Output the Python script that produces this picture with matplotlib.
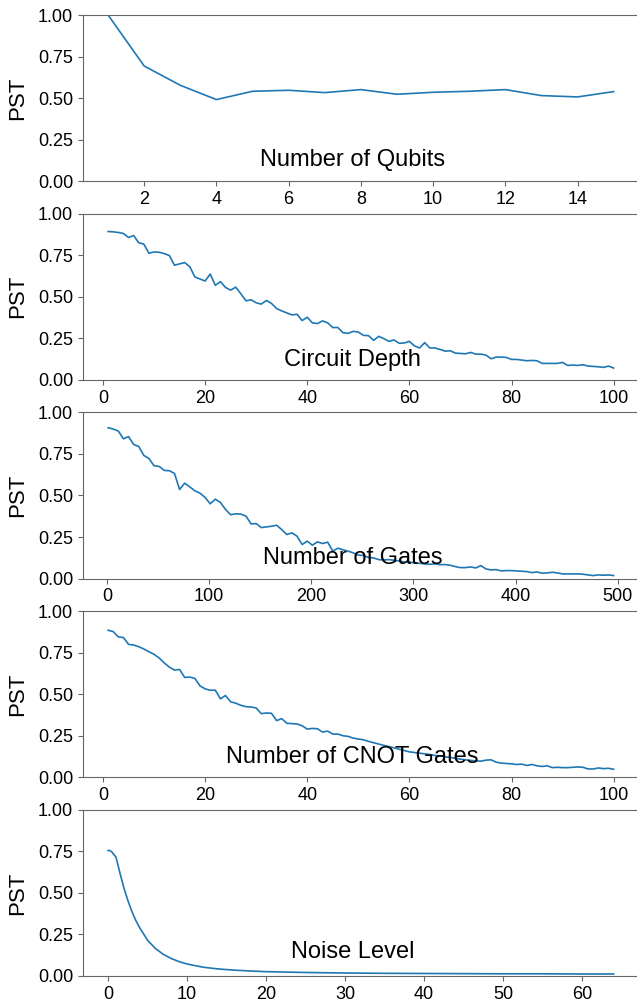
#!/usr/bin/env python3

import matplotlib
matplotlib.use("Agg")
import matplotlib.pyplot as plt

plt.rcParams["font.family"] = ["Liberation Sans", "DejaVu Sans"]

# --- data ---
qubits_x = list(range(1, 16))
qubits_pst = [1.0, 0.693, 0.577, 0.491, 0.541, 0.547, 0.533, 0.551, 0.523,
              0.535, 0.541, 0.551, 0.515, 0.507, 0.539]

depth_x = list(range(1, 101))
depth_pst = [0.893, 0.891, 0.887, 0.881, 0.857, 0.869, 0.825, 0.817, 0.762, 0.770,
             0.768, 0.760, 0.748, 0.690, 0.698, 0.706, 0.681, 0.619, 0.607, 0.595,
             0.637, 0.569, 0.591, 0.556, 0.540, 0.558, 0.518, 0.476, 0.482, 0.464,
             0.456, 0.478, 0.460, 0.429, 0.415, 0.403, 0.391, 0.395, 0.357, 0.377,
             0.343, 0.339, 0.355, 0.343, 0.315, 0.315, 0.284, 0.280, 0.292, 0.288,
             0.268, 0.266, 0.238, 0.262, 0.248, 0.232, 0.240, 0.220, 0.222, 0.232,
             0.204, 0.192, 0.224, 0.192, 0.192, 0.183, 0.173, 0.175, 0.161, 0.159,
             0.157, 0.165, 0.155, 0.155, 0.149, 0.127, 0.137, 0.137, 0.135, 0.123,
             0.123, 0.119, 0.115, 0.117, 0.115, 0.099, 0.099, 0.099, 0.099, 0.105,
             0.087, 0.089, 0.087, 0.091, 0.083, 0.081, 0.079, 0.075, 0.083, 0.071]

gates_x = list(range(1, 500, 5))
gates_pst = [0.908, 0.900, 0.888, 0.841, 0.855, 0.807, 0.795, 0.741, 0.723, 0.679,
             0.675, 0.651, 0.649, 0.633, 0.536, 0.574, 0.552, 0.528, 0.514, 0.488,
             0.450, 0.478, 0.458, 0.416, 0.384, 0.390, 0.388, 0.376, 0.329, 0.331,
             0.307, 0.311, 0.315, 0.321, 0.295, 0.265, 0.275, 0.255, 0.205, 0.225,
             0.201, 0.221, 0.211, 0.219, 0.165, 0.183, 0.173, 0.165, 0.155, 0.141,
             0.139, 0.127, 0.124, 0.114, 0.112, 0.114, 0.110, 0.106, 0.100, 0.100,
             0.094, 0.092, 0.088, 0.086, 0.088, 0.084, 0.084, 0.080, 0.072, 0.066,
             0.066, 0.070, 0.064, 0.078, 0.058, 0.052, 0.054, 0.046, 0.048, 0.048,
             0.046, 0.044, 0.042, 0.036, 0.040, 0.032, 0.034, 0.038, 0.034, 0.028,
             0.028, 0.028, 0.028, 0.026, 0.022, 0.018, 0.022, 0.020, 0.022, 0.018]

cnot_x = list(range(1, 101))
cnot_pst = [0.885, 0.877, 0.845, 0.841, 0.800, 0.796, 0.786, 0.772, 0.756, 0.740,
            0.718, 0.688, 0.663, 0.645, 0.649, 0.601, 0.603, 0.595, 0.550, 0.532,
            0.524, 0.524, 0.472, 0.492, 0.454, 0.446, 0.433, 0.425, 0.423, 0.417,
            0.383, 0.387, 0.385, 0.341, 0.353, 0.325, 0.323, 0.321, 0.310, 0.290,
            0.294, 0.292, 0.272, 0.278, 0.260, 0.260, 0.250, 0.246, 0.236, 0.230,
            0.226, 0.216, 0.208, 0.200, 0.192, 0.185, 0.177, 0.169, 0.161, 0.153,
            0.149, 0.145, 0.141, 0.137, 0.131, 0.129, 0.123, 0.119, 0.115, 0.109,
            0.105, 0.101, 0.099, 0.097, 0.103, 0.105, 0.091, 0.085, 0.083, 0.081,
            0.077, 0.079, 0.071, 0.077, 0.069, 0.065, 0.069, 0.058, 0.060, 0.058,
            0.058, 0.060, 0.062, 0.060, 0.050, 0.050, 0.056, 0.052, 0.054, 0.048]

noise_x = [0, 0.25, 0.5, 1, 1.5, 2, 2.5, 3, 3.5, 4, 5, 6, 7, 8, 9, 10, 12, 14,
           16, 18, 20, 25, 30, 35, 40, 45, 50, 55, 60, 64]
noise_pst = [0.755, 0.755, 0.745, 0.715, 0.62, 0.53, 0.455, 0.39, 0.335, 0.29,
             0.215, 0.165, 0.13, 0.105, 0.086, 0.072, 0.053, 0.042, 0.035, 0.030,
             0.026, 0.021, 0.018, 0.016, 0.015, 0.014, 0.013, 0.013, 0.012, 0.012]

labels = ["Number of Qubits", "Circuit Depth", "Number of Gates",
          "Number of CNOT Gates", "Noise Level"]
series = [(qubits_x, qubits_pst), (depth_x, depth_pst), (gates_x, gates_pst),
          (cnot_x, cnot_pst), (noise_x, noise_pst)]
label_y = [0.09, 0.085, 0.085, 0.085, 0.11]

fig, axes = plt.subplots(5, 1, figsize=(6.37, 10.01), dpi=100)
fig.subplots_adjust(left=0.13, right=1.003, top=0.985, bottom=0.025, hspace=0.196)

for ax, (x, y), name, ly in zip(axes, series, labels, label_y):
    ax.plot(x, y, color="#1f77b4", lw=1.2)
    ax.set_ylim(0, 1)
    ax.set_yticks([0, 0.25, 0.5, 0.75, 1.0])
    ax.set_yticklabels(["0.00", "0.25", "0.50", "0.75", "1.00"])
    ax.set_ylabel("PST", fontsize=16, labelpad=7)
    ax.text(0.485, ly, name, transform=ax.transAxes, ha="center",
            va="baseline", fontsize=17)
    ax.tick_params(labelsize=13, color="#666666")
    for side in ["left", "bottom", "top"]:
        ax.spines[side].set_color("#666666")
    ax.spines["right"].set_visible(False)

fig.savefig("out.png", dpi=100)
